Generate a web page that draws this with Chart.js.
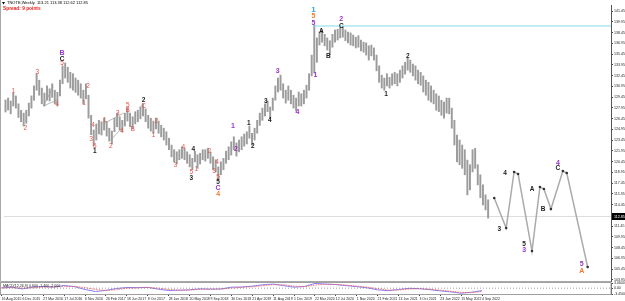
<!DOCTYPE html>
<html><head><meta charset="utf-8">
<script src="https://cdn.jsdelivr.net/npm/chart.js@4.4.1/dist/chart.umd.min.js"></script>
<style>
html,body{margin:0;padding:0;background:#fff;}
#wrap{position:relative;width:625px;height:301px;overflow:hidden;background:#fff}
canvas{position:absolute;left:0;top:0}
</style></head><body>
<div id="wrap"><canvas id="main" width="625" height="301"></canvas><canvas id="ind" width="625" height="301"></canvas></div>
<script>
// ---------- DATA ----------
const symbolTitle = 'TNOTE,Weekly  113.21 113.38 112.62 112.85';
const spreadText = 'Spread: 9 points';
const macdTitle = 'MACD(12,26,9) 0.600 -1.400 -2.000';

// two-week bars, Aug 2015 .. Sep 2022 (high / low prices)
const highs = [
129.03,129.31,128.9,130.0,129.6,128.5,127.6,127.2,127.6,128.6,129.6,131.0,132.7,
131.8,130.7,130.0,131.0,130.6,131.3,130.4,130.1,131.8,133.8,
134.2,133.6,132.9,132.7,132.1,131.8,131.3,130.4,131.3,129.7,126.9,
124.85,125.7,126.2,126.0,126.5,126.0,125.1,124.7,126.5,127.2,126.7,
126.2,127.2,127.9,127.2,126.7,127.4,127.6,128.1,128.5,127.8,126.9,126.5,126.1,
126.5,126.1,125.5,125.1,124.6,123.7,122.75,122.1,121.8,122.1,122.5,122.3,121.8,121.4,120.9,121.9,121.4,121.6,122.1,122.1,122.3,121.8,121.1,120.7,119.7,
120.4,120.9,121.9,122.5,123.2,123.9,123.05,123.45,123.9,124.3,124.6,125.4,124.4,125.1,126.2,127.2,127.9,128.5,128.9,128.05,129.3,131.0,132.1,132.5,131.3,130.4,131.0,130.4,
129.7,129.3,130.15,129.9,130.4,131.1,132.7,135.3,139.5,137.7,
138.5,138.8,138.2,137.7,137.3,138.2,138.8,138.9,139.2,139.2,138.8,138.5,138.4,138.1,137.8,138.0,137.4,137.1,137.0,136.6,
136.7,136.3,135.3,133.8,132.5,132.1,132.7,132.2,132.7,132.9,132.7,133.2,133.8,134.3,134.9,134.6,134.05,133.8,133.2,132.9,132.4,131.8,131.5,131.0,130.4,129.9,129.6,129.0,128.75,129.3,
129.3,127.9,126.2,124.15,123.45,122.75,122.1,120.65,120.0,122.1,122.3,120.0,118.6,117.2,115.8,115.1
];
const lows = [
127.36,127.64,127.1,128.2,127.9,126.6,126.0,125.4,125.8,126.8,127.9,129.0,130.4,
129.7,128.5,128.2,129.0,128.9,129.4,128.5,128.2,129.6,131.3,
132.1,131.5,130.7,130.4,130.1,129.7,129.3,128.5,129.2,126.5,124.2,
122.6,123.45,124.3,124.15,124.85,124.0,123.3,122.9,124.6,125.3,124.85,
124.6,125.4,126.1,125.3,125.0,125.7,126.0,126.4,126.8,126.0,125.1,124.7,124.4,
125.0,124.4,123.9,123.45,122.75,122.1,121.1,120.4,120.1,120.7,120.9,120.7,120.2,119.7,119.3,120.4,119.5,120.1,120.7,120.5,120.9,120.2,119.3,119.0,117.9,
118.6,119.3,120.2,120.7,121.35,122.1,121.2,121.8,122.1,122.6,122.9,123.7,122.75,123.45,124.4,125.5,126.2,126.8,127.4,126.4,127.6,129.0,130.15,130.4,129.3,128.6,129.0,128.5,
127.9,127.5,128.2,128.2,128.5,129.3,130.4,132.4,132.8,134.3,
136.7,137.1,136.6,136.0,135.3,136.4,137.1,137.4,137.7,137.8,137.3,137.0,136.7,136.6,136.3,136.4,135.9,135.7,135.3,134.6,
135.2,134.6,133.1,131.5,130.7,130.4,131.0,130.7,131.1,131.3,131.0,131.5,132.1,132.65,133.2,132.9,132.4,131.8,131.3,131.1,130.15,129.7,129.0,128.75,128.5,127.6,127.4,126.9,126.5,127.2,
127.1,125.1,122.75,120.4,120.0,119.5,118.6,115.8,116.5,119.0,119.5,117.2,115.4,114.4,113.7,112.55
];
const barWeek = highs.map((_, i) => i * 2);   // week index of each bar
const lastClose = 112.85;

const priceTicks = [141.45,139.95,138.45,136.95,135.45,133.95,132.45,130.95,129.45,127.95,126.45,124.95,123.45,121.95,120.45,118.95,117.45,115.95,114.45,112.95,111.45,109.95,108.45,106.95,105.45,103.95];

const dateWeeks = [0,16,32,48,64,80,96,112,128,144,160,176,192,208,224,240,256,272,288,304,320,336,352,368];
const dateLabels = ['16 Aug 2015','6 Dec 2015','27 Mar 2016','17 Jul 2016','6 Nov 2016','26 Feb 2017','18 Jun 2017','8 Oct 2017','28 Jan 2018','20 May 2018','9 Sep 2018','30 Dec 2018','21 Apr 2019','11 Aug 2019','1 Dec 2019','22 Mar 2020','12 Jul 2020','1 Nov 2020','21 Feb 2021','13 Jun 2021','3 Oct 2021','23 Jan 2022','15 May 2022','4 Sep 2022'];

// projected path
const projWeek  = [376.7,385.9,392.0,395.1,405.8,411.9,415.0,420.4,429.6,432.6,448.7];
const projPrice = [115.36,111.17,118.99,118.71,107.96,116.89,116.61,113.82,119.13,118.85,105.73];

// horizontal resistance line
const resistanceWeek = [237.4, 466.7];
const resistancePrice = [139.36, 139.36];

// hand-drawn trendlines: [week1, price1, week2, price2]
const trendlines = [[29.1,128.19,36.8,130.85],[29.1,128.19,39.8,129.03],[76.6,125.82,91.1,127.22],[81.2,123.45,90.4,125.27]];

// wave labels
const waveText   = ['1','2','3','4','5','C','B','1','2','4','3','5','1','1','2','3','4','5','B','B','2','C','1','2','3','4','4','5','3','1','2','3','4','5','5','C','4','1','2','1','2','3','4','3','4','1','5','5','1','A','B','2','C','1','2','3','4','5','3','A','B','4','C','5','A'];
const waveWeek   = [6.1,15.3,24.5,39.8,43.6,43.6,43.6,60.5,63.6,67.4,65.9,68.9,68.9,76.6,81.2,86.5,89.6,94.2,94.2,98.0,106.4,106.4,114.1,116.4,130.9,137.1,144.7,143.2,143.2,147.0,157.0,160.8,163.1,163.9,163.9,163.9,163.9,175.3,177.6,187.6,190.7,200.6,203.7,209.8,225.1,237.4,237.4,237.4,238.9,243.5,248.9,258.8,258.8,293.3,310.1,380.6,385.1,399.7,399.7,405.8,414.3,425.8,425.8,444.1,444.1];
const wavePrice  = [130.3,125.1,132.9,128.5,134.1,134.75,135.6,128.6,131.0,125.5,123.6,122.6,121.9,126.2,122.6,127.2,124.7,128.35,127.6,125.0,129.0,128.2,124.15,126.1,120.0,122.5,122.2,119.0,118.15,119.4,121.9,119.1,120.4,118.3,117.6,116.75,115.9,125.4,122.2,125.8,122.6,128.9,126.2,133.1,127.4,141.6,140.75,139.8,132.5,138.7,135.2,140.3,139.4,129.9,135.2,111.0,118.85,108.9,108.1,116.6,113.8,120.2,119.5,106.15,105.2];
const waveDegree = ['r','r','r','r','r','k','p','r','r','r','r','r','k','r','r','r','r','r','r','r','k','r','r','r','r','r','k','r','k','r','r','r','r','r','k','p','o','p','p','k','k','k','k','p','p','b','o','p','p','k','k','p','k','k','k','k','k','k','p','k','k','p','k','p','o'];

// MACD indicator
const macdWeek = [0,8,16,24,32,40,48,56,64,72,80,88,96,104,112,120,128,136,144,152,160,168,176,184,192,200,208,216,224,232,240,248,256,264,272,280,288,296,304,312,320,328,336,344,352,360,368];
const macdMain = [0.2,0.5,-0.4,0.6,1.0,0.6,1.6,0.9,-0.8,-2.0,-1.3,-0.2,0.4,0.3,0.5,-0.6,-1.4,-1.2,-1.0,-0.4,-0.6,-0.5,0.6,0.7,1.2,2.0,2.4,1.5,0.6,1.0,2.8,2.4,2.1,1.5,0.9,0.2,-1.0,-1.5,-0.8,-0.1,-0.3,-0.9,-1.6,-2.2,-3.0,-2.4,-1.4];
const macdSignal = [0.1,0.3,0.1,0.2,0.6,0.7,1.0,1.1,0.3,-0.8,-1.4,-0.9,-0.1,0.2,0.4,0.0,-0.8,-1.2,-1.1,-0.7,-0.6,-0.5,0.0,0.5,0.9,1.5,2.1,2.0,1.2,0.9,1.8,2.4,2.2,1.8,1.2,0.6,-0.3,-1.1,-1.1,-0.5,-0.3,-0.6,-1.2,-1.8,-2.5,-2.6,-2.0];
const macdTicks = [3.06, 0, -3.45];

// ---------- STYLE / LAYOUT ----------
const X_MIN = -1.15, X_MAX = 466.7, Y_MIN = 103.78, Y_MAX = 142.29;
const FONT = 'Arial, "Liberation Sans", sans-serif';
const degreeStyle = {
  r:{c:'#e5534b', w:'normal', s:6.5},
  k:{c:'#1c1c1c', w:'bold', s:6.5},
  p:{c:'#9a36c8', w:'bold', s:7},
  o:{c:'#f07a32', w:'bold', s:7},
  b:{c:'#2ba8f2', w:'bold', s:8}
};

const mainOverlay = {
  id:'mainOverlay',
  beforeDatasetsDraw(chart){
    const {ctx, chartArea:a, scales:{y}} = chart;
    ctx.save();
    ctx.lineWidth = 1;
    ctx.strokeStyle = '#a8a8a8';
    ctx.beginPath(); ctx.moveTo(0.5,0); ctx.lineTo(0.5,a.bottom+0.5); ctx.lineTo(a.right,a.bottom+0.5); ctx.stroke();
    const py = Math.round(y.getPixelForValue(lastClose)) + 0.5;
    ctx.strokeStyle = '#dddddd';
    ctx.beginPath(); ctx.moveTo(a.left,py); ctx.lineTo(a.right,py); ctx.stroke();
    ctx.restore();
  },
  afterDatasetsDraw(chart){
    const {ctx, scales:{x,y}} = chart;
    ctx.save(); ctx.textAlign='center'; ctx.textBaseline='middle';
    waveText.forEach((t,i)=>{
      const st = degreeStyle[waveDegree[i]];
      ctx.font = st.w + ' ' + st.s + 'px ' + FONT;
      ctx.fillStyle = st.c;
      ctx.fillText(t, x.getPixelForValue(waveWeek[i]), y.getPixelForValue(wavePrice[i]));
    });
    ctx.restore();
  },
  afterDraw(chart){
    const {ctx, chartArea:a, scales:{y}} = chart;
    ctx.save();
    const py = Math.round(y.getPixelForValue(lastClose));
    ctx.fillStyle = '#000'; ctx.fillRect(a.right+1, py-3, 14, 7);
    ctx.fillStyle = '#fff'; ctx.font = '3.6px ' + FONT; ctx.textBaseline='middle'; ctx.textAlign='left';
    ctx.fillText(lastClose.toFixed(2), a.right+3, py+0.5);
    ctx.fillStyle = '#000';
    ctx.beginPath(); ctx.moveTo(2,2); ctx.lineTo(5,2); ctx.lineTo(3.5,4.5); ctx.closePath(); ctx.fill();
    ctx.font = '4px ' + FONT; ctx.textBaseline='top';
    ctx.fillText(symbolTitle, 7, 1);
    ctx.fillStyle = '#e8211c'; ctx.font = 'bold 4.8px ' + FONT;
    ctx.fillText(spreadText, 3, 6.5);
    ctx.restore();
  }
};

const indOverlay = {
  id:'indOverlay',
  afterDraw(chart){
    const {ctx, chartArea:a} = chart;
    ctx.save();
    ctx.strokeStyle = '#a0a0a0'; ctx.lineWidth = 1;
    ctx.strokeRect(0.5, a.top-0.5, a.right-0.5, a.bottom-a.top+1);
    ctx.fillStyle = '#222'; ctx.font = '3.6px ' + FONT; ctx.textBaseline='top'; ctx.textAlign='left';
    ctx.fillText(macdTitle, 3, a.top+1);
    ctx.restore();
  }
};

new Chart(document.getElementById('main'), {
  type:'bar',
  data:{datasets:[
    {type:'bar', data: barWeek.map((w,i)=>({x:w, y:[lows[i], highs[i]]})), backgroundColor:'#9c9c9c', barThickness:1.3, borderWidth:0, order:5},
    {type:'line', data: resistanceWeek.map((w,i)=>({x:w, y:resistancePrice[i]})), borderColor:'#84dcec', borderWidth:1, pointRadius:0, order:4},
    ...trendlines.map(t=>({type:'line', data:[{x:t[0],y:t[1]},{x:t[2],y:t[3]}], borderColor:'#9a9a9a', borderWidth:0.7, pointRadius:0, order:3})),
    {type:'line', data: projWeek.map((w,i)=>({x:w, y:projPrice[i]})), borderColor:'#ababab', borderWidth:1.5, pointRadius:1.3, pointBackgroundColor:'#333', pointBorderWidth:0, tension:0, order:1}
  ]},
  options:{
    responsive:false, animation:false, events:[],
    layout:{padding:{left:0, top:5, right:0, bottom:20}},
    plugins:{legend:{display:false}, tooltip:{enabled:false}},
    scales:{
      x:{type:'linear', min:X_MIN, max:X_MAX, offset:false, display:false},
      y:{type:'linear', position:'right', min:Y_MIN, max:Y_MAX,
         afterFit(s){ s.width = 14; },
         afterBuildTicks(s){ s.ticks = priceTicks.map(v=>({value:v})); },
         ticks:{font:{size:3.6, family:FONT}, color:'#222', padding:1, autoSkip:false, callback:v=>Number(v).toFixed(2)},
         grid:{drawOnChartArea:false, tickLength:2, color:'#444'},
         border:{display:true, color:'#555', width:1}}
    }
  },
  plugins:[mainOverlay]
});

new Chart(document.getElementById('ind'), {
  type:'line',
  data:{datasets:[
    {data:[{x:X_MIN,y:0},{x:X_MAX,y:0}], borderColor:'#777', borderWidth:0.7, borderDash:[1,2], pointRadius:0},
    {data: macdWeek.map((w,i)=>({x:w, y:macdSignal[i]})), borderColor:'#f05a5a', borderWidth:0.8, borderDash:[1.5,1], pointRadius:0},
    {data: macdWeek.map((w,i)=>({x:w, y:macdMain[i]})), borderColor:'#7a72f0', borderWidth:0.9, pointRadius:0}
  ]},
  options:{
    responsive:false, animation:false, events:[],
    layout:{padding:{left:0, top:283, right:0, bottom:0}},
    plugins:{legend:{display:false}, tooltip:{enabled:false}},
    scales:{
      x:{type:'linear', min:X_MIN, max:X_MAX, offset:false, position:'bottom',
         afterFit(s){ s.height = 7; },
         afterBuildTicks(s){ s.ticks = dateWeeks.map(v=>({value:v})); },
         ticks:{font:{size:3.5, family:FONT}, color:'#222', align:'start', maxRotation:0, autoSkip:false, padding:1, callback:(v,i)=>dateLabels[i]},
         grid:{drawOnChartArea:false, tickLength:2, color:'#444'},
         border:{display:true, color:'#777'}},
      y:{type:'linear', position:'right', min:-3.45, max:3.06,
         afterFit(s){ s.width = 14; },
         afterBuildTicks(s){ s.ticks = macdTicks.map(v=>({value:v})); },
         ticks:{font:{size:3.5, family:FONT}, color:'#222', padding:1, autoSkip:false, callback:v=>v===0?'0.00':Number(v).toFixed(4)},
         grid:{drawOnChartArea:false, tickLength:2, color:'#444'},
         border:{display:true, color:'#555'}}
    }
  },
  plugins:[indOverlay]
});
</script>
</body></html>
